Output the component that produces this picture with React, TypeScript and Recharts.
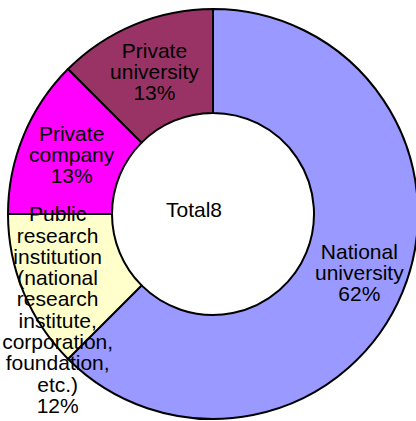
import React from "react";
import { PieChart, Pie, Cell, Label } from "recharts";

// clockwise from 12 o'clock
const categories = [
  "National\nuniversity",
  "Public\nresearch\ninstitution\n(national\nresearch\ninstitute,\ncorporation,\nfoundation,\netc.)",
  "Private\ncompany",
  "Private\nuniversity",
];
const counts = [5, 1, 1, 1];
const percentLabels = ["62%", "12%", "13%", "13%"];
const totalLabel = "Total8";

const colors = ["#9999FF", "#FFFFCC", "#FF00FF", "#993366"];
// nudges for labels that Excel did not put at the ring's middle
const labelNudge = [
  { dx: 5, dy: 0 },
  { dx: -14, dy: 37 },
  { dx: 0, dy: -1 },
  { dx: 0, dy: -1 },
];

const data = categories.map((name, i) => ({
  name,
  value: counts[i],
  pct: percentLabels[i],
}));

const FONT = "'Liberation Sans', Arial, sans-serif";
const LINE = 21.3;

const renderLabel = (props: any) => {
  const { cx, cy, midAngle, innerRadius, outerRadius, index } = props;
  const RAD = Math.PI / 180;
  const r = (innerRadius + outerRadius) / 2;
  const x = cx + r * Math.cos(-midAngle * RAD) + labelNudge[index].dx;
  const y = cy + r * Math.sin(-midAngle * RAD) + labelNudge[index].dy;
  const lines = [...data[index].name.split("\n"), data[index].pct];
  const n = lines.length;
  return (
    <text
      key={`lbl-${index}`}
      textAnchor="middle"
      fontFamily={FONT}
      fontSize={21}
      fill="#000"
    >
      {lines.map((l, i) => (
        <tspan key={i} x={x} y={y + (i - (n - 1) / 2) * LINE + 7.5}>
          {l}
        </tspan>
      ))}
    </text>
  );
};

export default function App() {
  return (
    <div style={{ position: "absolute", left: 0, top: 0, width: 416, height: 421, background: "#fff" }}>
      <PieChart width={416} height={421} margin={{ top: 0, right: 0, bottom: 0, left: 0 }}>
        <Pie
          data={data}
          dataKey="value"
          nameKey="name"
          cx={213}
          cy={214}
          innerRadius={101}
          outerRadius={205}
          startAngle={90}
          endAngle={-270}
          stroke="#000"
          strokeWidth={2}
          label={renderLabel}
          labelLine={false}
          isAnimationActive={false}
        >
          {data.map((d, i) => (
            <Cell key={d.name} fill={colors[i]} />
          ))}
          <Label
            position="center"
            content={(p: any) => {
              const vb = p.viewBox || {};
              return (
                <text
                  x={(vb.cx ?? 213) - 19}
                  y={(vb.cy ?? 214) + 3}
                  textAnchor="middle"
                  fontFamily={FONT}
                  fontSize={21}
                  fill="#000"
                >
                  {totalLabel}
                </text>
              );
            }}
          />
        </Pie>
      </PieChart>
    </div>
  );
}
